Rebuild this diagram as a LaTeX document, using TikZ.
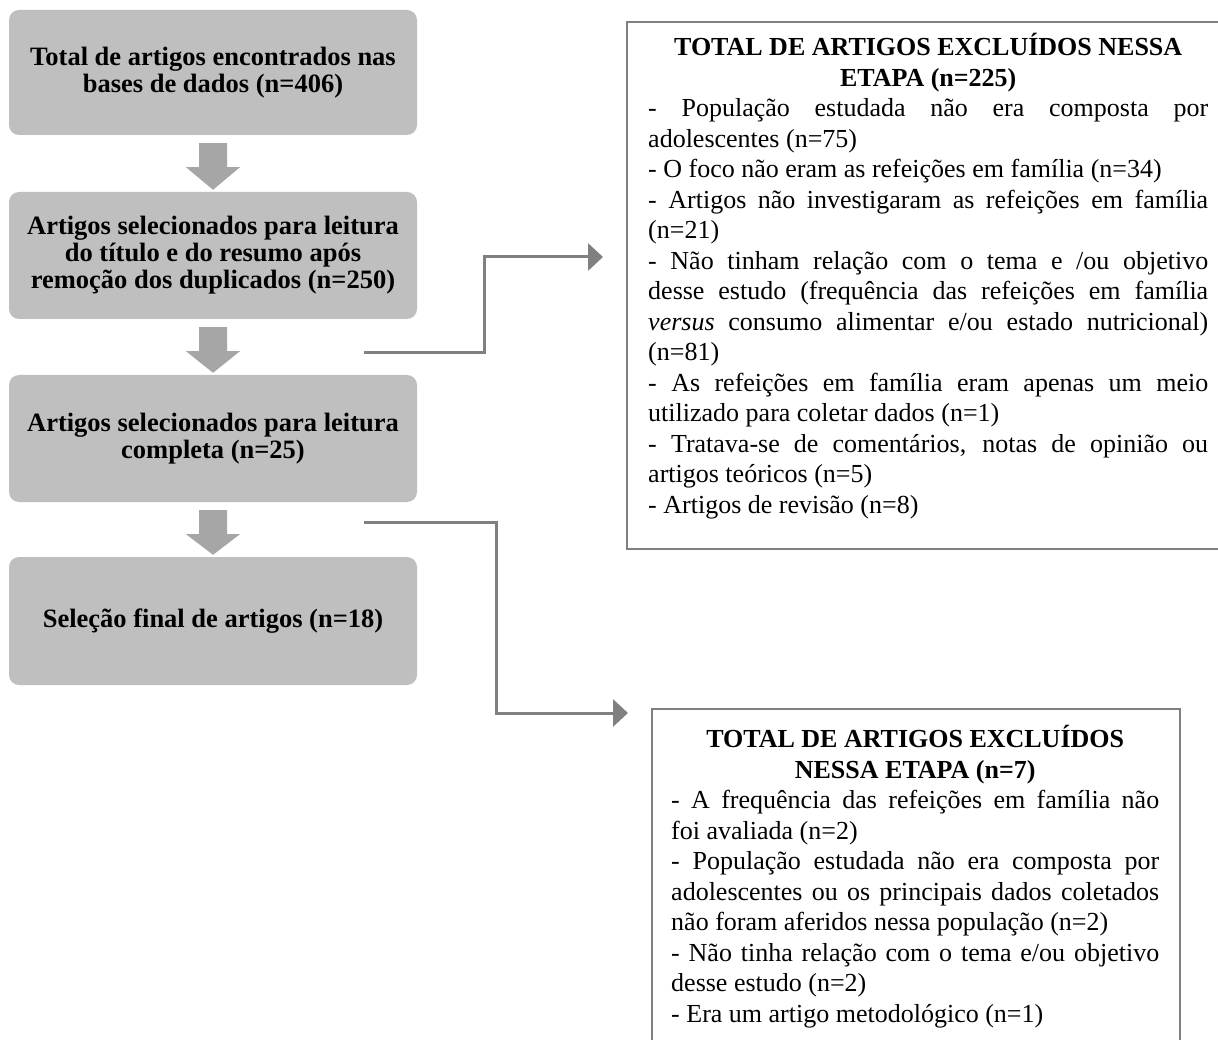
\documentclass[tikz,border=0pt]{standalone}
\usepackage{fontspec}
\setmainfont{Liberation Serif}
\usetikzlibrary{arrows.meta,calc}
\definecolor{boxgrey}{HTML}{BFBFBF}
\definecolor{arrgrey}{HTML}{A6A6A6}
\definecolor{linegrey}{HTML}{808080}
\newcommand\flowarrow[2]{%
  \fill[arrgrey] ($(#1.south)+(-14,8)$) -- ($(#1.south)+(14,8)$) -- ($(#1.south)+(14,32)$)
    -- ($(#1.south)+(27,32)$) -- ($(#2.north)+(0,-2)$) -- ($(#1.south)+(-27,32)$)
    -- ($(#1.south)+(-14,32)$) -- cycle;}
\begin{document}
\begin{tikzpicture}[x=1pt,y=-1pt,
  stepbox/.style={rounded corners=10pt, fill=boxgrey, draw=none, minimum width=408pt,
    align=center, inner sep=0pt, font=\fontsize{26.5}{27}\selectfont\bfseries},
  framebox/.style={draw=linegrey, line width=2pt, anchor=north west, inner sep=0pt},
  listtext/.style={anchor=north west, inner sep=0pt, align=justify,
    font=\fontsize{26}{30.5}\selectfont},
  conn/.style={draw=linegrey, line width=3pt, -{Triangle[length=15pt,width=27pt]}}
]
\clip (0,0) rectangle (1218,1040);
\fill[white] (0,0) rectangle (1218,1040);

% left column
\node[stepbox, minimum height=125pt] (b1) at (213,72.5)
  {Total de artigos encontrados nas\\bases de dados (n=406)};
\node[stepbox, minimum height=127pt] (b2) at (213,255.5)
  {Artigos selecionados para leitura\\do título e do resumo após\\remoção dos duplicados (n=250)};
\node[stepbox, minimum height=127pt] (b3) at (213,438.5)
  {Artigos selecionados para leitura\\completa (n=25)};
\node[stepbox, minimum height=128pt] (b4) at (213,621)
  {Seleção final de artigos (n=18)};

\flowarrow{b1}{b2}
\flowarrow{b2}{b3}
\flowarrow{b3}{b4}

% right boxes
\node[framebox, minimum width=620pt, minimum height=527pt] (r1) at (626,21) {};
\node[framebox, minimum width=528pt, minimum height=400pt] (r2) at (651,708) {};

\node[listtext, text width=560pt] (t1) at ($(r1.north west)+(22,12)$) {%
  \hyphenpenalty=10000\parindent=0pt
  {\centering\bfseries TOTAL DE ARTIGOS EXCLUÍDOS NESSA\\ETAPA (n=225)\par}
  - População estudada não era composta por\linebreak adolescentes (n=75)\par
  - O foco não eram as refeições em família (n=34)\par
  - Artigos não investigaram as refeições em família\linebreak (n=21)\par
  - Não tinham relação com o tema e /ou objetivo\linebreak desse estudo (frequência das refeições em família\linebreak \emph{versus} consumo alimentar e/ou estado nutricional)\linebreak (n=81)\par
  - As refeições em família eram apenas um meio\linebreak utilizado para coletar dados (n=1)\par
  - Tratava-se de comentários, notas de opinião ou\linebreak artigos teóricos (n=5)\par
  - Artigos de revisão (n=8)\par};

\node[listtext, text width=488pt] (t2) at ($(r2.north west)+(20,17)$) {%
  \hyphenpenalty=10000\parindent=0pt
  {\centering\bfseries TOTAL DE ARTIGOS EXCLUÍDOS\\NESSA ETAPA (n=7)\par}
  - A frequência das refeições em família não\linebreak foi avaliada (n=2)\par
  - População estudada não era composta por\linebreak adolescentes ou os principais dados coletados\linebreak não foram aferidos nessa população (n=2)\par
  - Não tinha relação com o tema e/ou objetivo\linebreak desse estudo (n=2)\par
  - Era um artigo metodológico (n=1)\par};

% connectors
\coordinate (c1s) at (364,353);
\coordinate (c1e) at ($(r1.north west)+(-23,236)$);
\draw[conn] (c1s) -- (484,353) |- (c1e);
\coordinate (c2s) at (364,522);
\coordinate (c2e) at ($(r2.north west)+(-23,5)$);
\draw[conn] (c2s) -- (496,522) |- (c2e);
\end{tikzpicture}
\end{document}
